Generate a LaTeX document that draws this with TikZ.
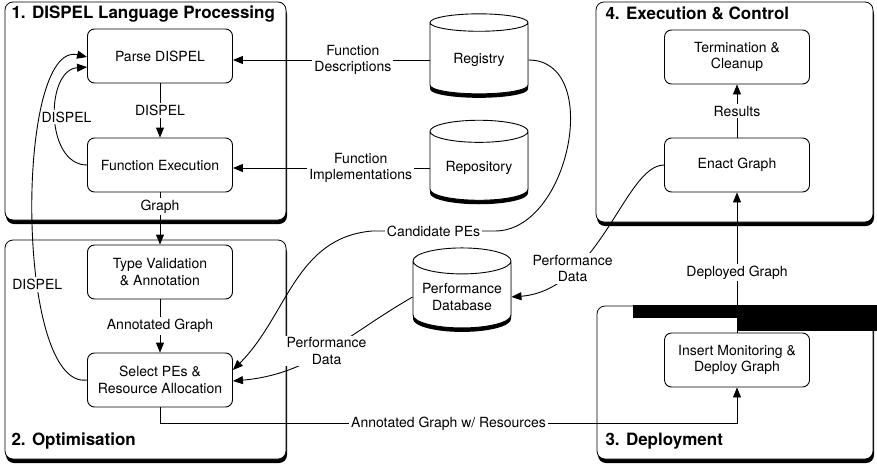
\documentclass[tikz,border=0pt]{standalone}
\usepackage{fontspec}
\setmainfont{TeX Gyre Heros}
\usetikzlibrary{calc}
\usetikzlibrary{positioning}
\usetikzlibrary{shapes.geometric}
\usetikzlibrary{shadows}
\usetikzlibrary{arrows.meta}
\tikzstyle{procnode} = [draw, rounded corners=7pt, minimum width=145pt, minimum height=54pt, align=center, fill=white, line width=0.9pt]
\tikzstyle{storenode} = [draw, cylinder, shape border rotate=90, aspect=0.3, minimum width=98pt, minimum height=80pt, align=center, fill=white, line width=0.9pt, drop shadow={shadow xshift=0pt, shadow yshift=-4pt, fill=black, opacity=1}]
\tikzstyle{panel} = [draw, rounded corners=8pt, fill=white, line width=0.8pt, drop shadow={shadow xshift=1pt, shadow yshift=-4pt, fill=black, opacity=1}]
\tikzstyle{flow} = [draw, line width=0.9pt, -{Triangle[length=10pt,width=8pt]}]
\tikzstyle{lbl} = [fill=white, inner sep=2pt, align=center]
\tikzstyle{paneltitle} = [font=\fontsize{17}{19}\selectfont\bfseries, anchor=west]

\begin{document}
\begin{tikzpicture}[x=1pt, y=1pt, font=\fontsize{14}{16.5}\selectfont]
    \useasboundingbox (0,0) rectangle (877,-466);

    % panels
    \draw[panel] (5,-2) rectangle (286,-220);
    \draw[panel] (5,-240) rectangle (286,-459);
    \draw[panel] (596,-2) rectangle (873,-222);
    \draw[panel] (597,-306) rectangle (873,-459);
    \fill (633,-305) rectangle (877,-318);
    \fill (737,-318) rectangle (877,-331);

    \node[paneltitle] (t_lang) at (8,-14) {1. DISPEL Language Processing};
    \node[paneltitle] (t_opt) at (8,-441) {2. Optimisation};
    \node[paneltitle] (t_dep) at (602,-441) {3. Deployment};
    \node[paneltitle] (t_exec) at (602,-13) {4. Execution \& Control};

    % processing steps
    \node[procnode] (parse) at (160,-56) {Parse DISPEL};
    \node[procnode] (fexec) at (160,-165) {Function Execution};
    \node[procnode] (tval) at (160,-272) {Type Validation\\\& Annotation};
    \node[procnode] (selpe) at (160,-380) {Select PEs \&\\Resource Allocation};
    \node[procnode] (term) at (737,-57) {Termination \&\\Cleanup};
    \node[procnode] (enact) at (737,-165) {Enact Graph};
    \node[procnode] (insmon) at (737,-360) {Insert Monitoring \&\\Deploy Graph};

    % stores
    \node[storenode] (registry) at (479,-60) {Registry};
    \node[storenode] (repo) at (479,-168) {Repository};
    \node[storenode] (perfdb) at (462,-297) {Performance\\Database};

    \coordinate (cand_r) at (495,-231);
    \coordinate (cand_l) at (372,-231);

    \draw[flow] (parse) -- node[lbl] {DISPEL} (fexec);
    \draw[flow] (fexec) -- node[lbl, pos=0.27] {Graph} (tval);
    \draw[flow] (tval) -- node[lbl] {Annotated Graph} (selpe);
    \draw[flow] (fexec.west) .. controls (45,-165) and (45,-70) .. node[lbl, xshift=11pt] {DISPEL} ($(parse.west)+(0,-11)$);
    \draw[flow] (selpe.west) .. controls (15,-390) and (15,-40) .. node[lbl, pos=0.36] {DISPEL} ($(parse.west)+(0,-1)$);

    \draw[flow] (registry.west) -- node[lbl, pos=0.39] {Function\\Descriptions} (registry.west -| parse.east);
    \draw[flow] (repo.west) -- node[lbl, pos=0.35] {Function\\Implementations} (repo.west -| fexec.east);

    \draw[flow] (registry.east) to[out=0, in=0, looseness=1.1] (cand_r) -- node[lbl] {Candidate PEs} (cand_l) to[out=185, in=45] ($(selpe.east)+(0,10)$);
    \draw[flow] (perfdb.west) to[out=210, in=5] node[lbl, pos=0.5] {Performance\\Data} ($(selpe.east)+(0,-1)$);
    \draw[flow] (enact.west) .. controls (625,-165) and (600,-290) .. node[lbl, pos=0.72] {Performance\\Data} (perfdb.east);

    \draw[flow] (selpe.south) -- ++(0,-16) -| node[lbl, pos=0.25] {Annotated Graph w/ Resources} (insmon.south);
    \draw[flow] (insmon) -- node[lbl, pos=0.43] {Deployed Graph} (enact);
    \draw[flow] (enact) -- node[lbl] {Results} (term);
\end{tikzpicture}
\end{document}
